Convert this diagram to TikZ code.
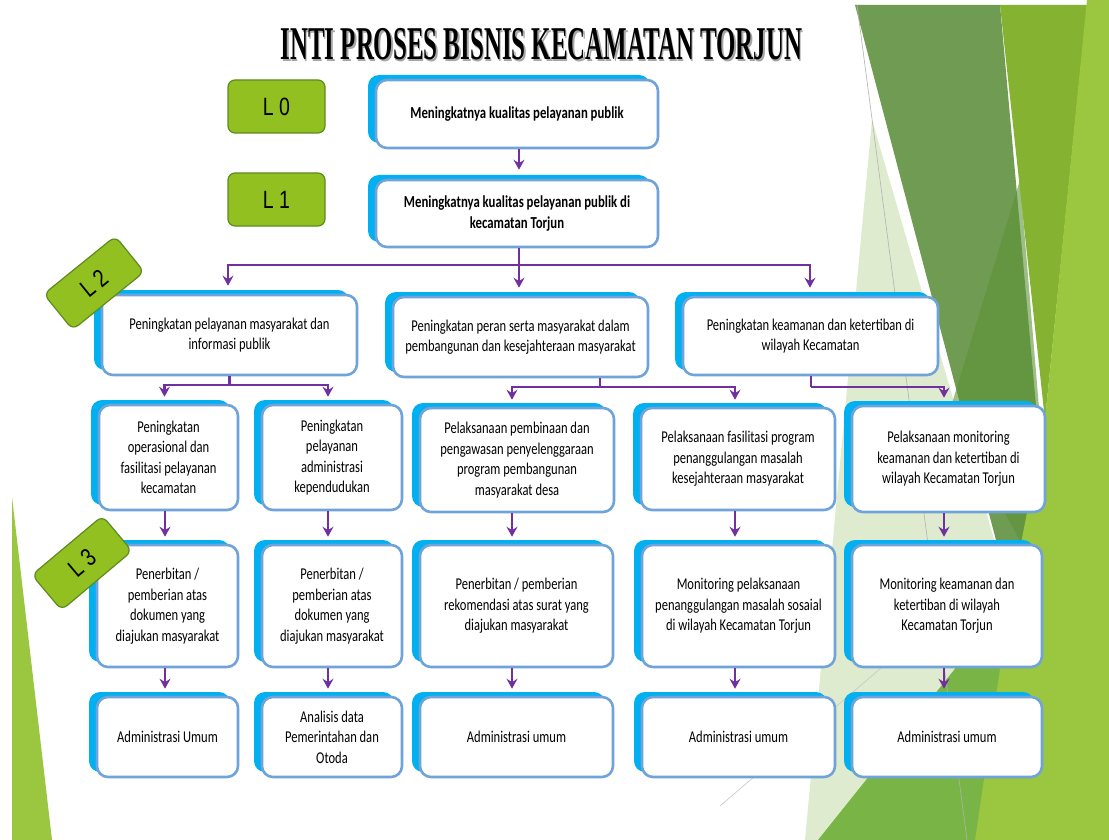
\documentclass[tikz,border=0pt]{standalone}
\usepackage{fontspec}
\setmainfont[FakeStretch=0.76]{Carlito}
\newfontfamily\tagfont[FakeStretch=0.78]{Liberation Sans}
\newfontfamily\ttlfont[FakeStretch=0.53]{Liberation Serif}
\usetikzlibrary{arrows.meta,shadows}
\definecolor{shblue}{HTML}{00B0F0}
\definecolor{bord}{HTML}{6FA3DA}
\definecolor{purp}{HTML}{7030A0}
\definecolor{tagfill}{HTML}{92C020}
\definecolor{tagdraw}{HTML}{5E8A22}
\definecolor{bgpale}{HTML}{DFEBCF}
\definecolor{bggray}{HTML}{6F9C52}
\definecolor{bgolive}{HTML}{86B232}
\definecolor{bglime}{HTML}{9BC63F}
\definecolor{bgmed}{HTML}{78B446}
\definecolor{bgdark}{HTML}{5E9338}
\begin{document}
\begin{tikzpicture}[x=1pt,y=-1pt,
  bx/.style={draw=bord, line width=2.6pt, fill=white, rounded corners=11pt, align=center, inner sep=2pt,
    font=\fontsize{16.5}{20.5}\selectfont,
    general shadow={fill=shblue, shadow xshift=-8pt, shadow yshift=5pt}},
  tag/.style={draw=tagdraw, line width=1.2pt, fill=tagfill, rounded corners=7pt,
    font=\tagfont\fontsize{25}{25}\selectfont, inner sep=0pt},
  conn/.style={draw=purp, line width=2.8pt},
  arr/.style={conn, -{Stealth[length=10pt,width=11pt,inset=3.5pt]}},
]
\useasboundingbox (0,0) rectangle (1109,840);
\fill[white] (0,0) rectangle (1109,840);
% background facets
\fill[bgpale] (872,120) -- (1000,560) -- (960,840) -- (805,840) -- cycle;
\fill[bggray] (855,5) -- (1000,5) -- (1075,840) -- cycle;
\fill[bgdark, opacity=0.6] (1020,180) -- (1040,420) -- (1030,560) -- (950,410) -- cycle;
\fill[bgolive] (1000,5) -- (1087,5) -- (1045,420) -- cycle;
\fill[bglime] (1087,0) -- (1109,0) -- (1109,840) -- (965,840) -- (1010,600) -- (1045,420) -- cycle;
\fill[bgmed] (1010,600) -- (975,840) -- (818,840) -- cycle;
\draw[gray!60, line width=0.6pt] (857,5) -- (967,840);
\draw[gray!45, line width=0.6pt] (720,806) -- (1000,566);
\fill[bglime] (12,497) -- (52,840) -- (12,840) -- cycle;
% title
\node[anchor=base, text=gray!70, font=\ttlfont\bfseries\fontsize{47}{47}\selectfont] (ttlsh) at (543,62) {INTI PROSES BISNIS KECAMATAN TORJUN};
\node[anchor=base, text=black, font=\ttlfont\bfseries\fontsize{47}{47}\selectfont] (ttl) at (541.5,60) {INTI PROSES BISNIS KECAMATAN TORJUN};
% L0 / L1
\node[bx, minimum width=282pt, minimum height=68pt, font=\bfseries\fontsize{16.8}{20.5}\selectfont] (L0) at (517,114) {Meningkatnya kualitas pelayanan publik};
\node[bx, minimum width=282pt, minimum height=67pt, font=\bfseries\fontsize{16.8}{20.5}\selectfont] (L1) at (517,213.5) {Meningkatnya kualitas pelayanan publik di\\kecamatan Torjun};
% L2
\node[bx, minimum width=255pt, minimum height=80pt] (B21) at (229.5,335) {Peningkatan pelayanan masyarakat dan\\informasi publik};
\node[bx, minimum width=255pt, minimum height=80pt] (B22) at (520.5,337) {Peningkatan peran serta masyarakat dalam\\pembangunan dan kesejahteraan masyarakat};
\node[bx, minimum width=255pt, minimum height=78pt] (B23) at (810.5,336) {Peningkatan keamanan dan ketertiban di\\wilayah Kecamatan};
% L3 row 1
\node[bx, minimum width=139pt, minimum height=105pt] (C1) at (168.5,457.5) {Peningkatan\\operasional dan\\fasilitasi pelayanan\\kecamatan};
\node[bx, minimum width=140pt, minimum height=105pt] (C2) at (332,457.5) {Peningkatan\\pelayanan\\administrasi\\kependudukan};
\node[bx, minimum width=194pt, minimum height=104pt] (C3) at (517,460) {Pelaksanaan pembinaan dan\\pengawasan penyelenggaraan\\program pembangunan\\masyarakat desa};
\node[bx, minimum width=194pt, minimum height=102pt] (C4) at (738,459) {Pelaksanaan fasilitasi program\\penanggulangan masalah\\kesejahteraan masyarakat};
\node[bx, minimum width=193pt, minimum height=106pt] (C5) at (948.5,459) {Pelaksanaan monitoring\\keamanan dan ketertiban di\\wilayah Kecamatan Torjun};
% L3 row 2
\node[bx, minimum width=141pt, minimum height=122pt] (D1) at (167.5,606) {Penerbitan /\\pemberian atas\\dokumen yang\\diajukan masyarakat};
\node[bx, minimum width=140pt, minimum height=122pt] (D2) at (332,606) {Penerbitan /\\pemberian atas\\dokumen yang\\diajukan masyarakat};
\node[bx, minimum width=193pt, minimum height=122pt] (D3) at (516.5,606) {Penerbitan / pemberian\\rekomendasi atas surat yang\\diajukan masyarakat};
\node[bx, minimum width=193pt, minimum height=122pt] (D4) at (738.5,606) {Monitoring pelaksanaan\\penanggulangan masalah sosaial\\di wilayah Kecamatan Torjun};
\node[bx, minimum width=190pt, minimum height=122pt] (D5) at (947,606) {Monitoring keamanan dan\\ketertiban di wilayah\\Kecamatan Torjun};
% L3 row 3
\node[bx, minimum width=141pt, minimum height=80pt] (E1) at (167.5,737) {Administrasi Umum};
\node[bx, minimum width=140pt, minimum height=80pt] (E2) at (332,737) {Analisis data\\Pemerintahan dan\\Otoda};
\node[bx, minimum width=193pt, minimum height=80pt] (E3) at (516.5,737) {Administrasi umum};
\node[bx, minimum width=193pt, minimum height=80pt] (E4) at (738.5,737) {Administrasi umum};
\node[bx, minimum width=190pt, minimum height=80pt] (E5) at (947,737) {Administrasi umum};
% level tags (on top)
\node[tag, minimum width=97pt, minimum height=53pt] (t0) at (276.5,106.5) {L 0};
\node[tag, minimum width=97pt, minimum height=53pt] (t1) at (276.5,199.5) {L 1};
\node[tag, minimum width=92pt, minimum height=46pt, rotate=39] (t2) at (94,283) {L 2};
\node[tag, minimum width=92pt, minimum height=46pt, rotate=40] (t3) at (82,563) {L 3};
% connectors
\draw[arr] ([xshift=2pt]L0.south) -- ([xshift=2pt,yshift=9pt]L1.north);
\coordinate (j1) at (519,265);
\draw[conn] ([xshift=2pt]L1.south) -- (j1);
\draw[arr] (j1) -| ([xshift=-1.5pt,yshift=8pt]B21.north);
\draw[arr] (j1) -- ([xshift=-1.5pt,yshift=8pt]B22.north);
\draw[arr] (j1) -| ([xshift=-0.5pt,yshift=8pt]B23.north);
\coordinate (k1) at (229.5,385);
\draw[conn] (B21.south) -- (k1);
\draw[arr] (k1) -| ([xshift=-4pt,yshift=7pt]C1.north);
\draw[arr] (k1) -| ([xshift=-4pt,yshift=7pt]C2.north);
\coordinate (k2) at (600,387);
\draw[conn] (k2 |- B22.south) -- (k2);
\draw[arr] (k2) -| ([xshift=-5pt,yshift=7pt]C3.north);
\draw[arr] (k2) -| ([xshift=-3pt,yshift=7pt]C4.north);
\coordinate (k3) at (811,387);
\draw[conn] (k3 |- B23.south) -- (k3);
\draw[arr] (k3) -| ([xshift=-4.5pt,yshift=7pt]C5.north);
\draw[arr] ([xshift=-3.5pt]C1.south) -- ([xshift=-2.5pt,yshift=7pt]D1.north);
\draw[arr] ([xshift=-4pt]C2.south) -- ([xshift=-4pt,yshift=7pt]D2.north);
\draw[arr] ([xshift=-5pt]C3.south) -- ([xshift=-4.5pt,yshift=7pt]D3.north);
\draw[arr] ([xshift=-3pt]C4.south) -- ([xshift=-3.5pt,yshift=7pt]D4.north);
\draw[arr] ([xshift=-4.5pt]C5.south) -- ([xshift=-3pt,yshift=7pt]D5.north);
\draw[arr] ([xshift=-2.5pt]D1.south) -- ([xshift=-2.5pt,yshift=7pt]E1.north);
\draw[arr] ([xshift=-4pt]D2.south) -- ([xshift=-4pt,yshift=7pt]E2.north);
\draw[arr] ([xshift=-4.5pt]D3.south) -- ([xshift=-4.5pt,yshift=7pt]E3.north);
\draw[arr] ([xshift=-3.5pt]D4.south) -- ([xshift=-3.5pt,yshift=7pt]E4.north);
\draw[arr] ([xshift=-3pt]D5.south) -- ([xshift=-3pt,yshift=7pt]E5.north);
\end{tikzpicture}
\end{document}
